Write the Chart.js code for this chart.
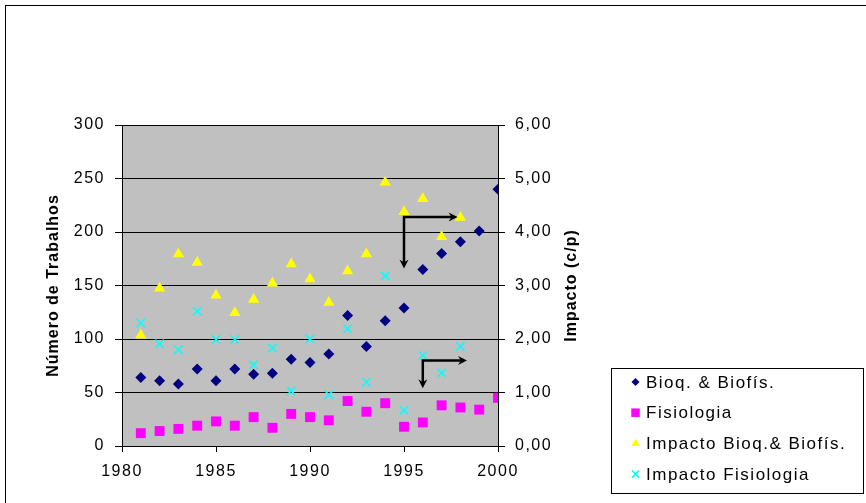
<!DOCTYPE html>
<html>
<head>
<meta charset="utf-8">
<script src="https://cdn.jsdelivr.net/npm/chart.js@4"></script>
<style>
  html, body { margin: 0; padding: 0; background: #fff; }
  #wrap { width: 866px; height: 503px; }
</style>
</head>
<body>
<div id="wrap"><canvas id="chart" width="866" height="503"></canvas></div>
<script>
// values
const years = [1981, 1982, 1983, 1984, 1985, 1986, 1987, 1988, 1989, 1990,
               1991, 1992, 1993, 1994, 1995, 1996, 1997, 1998, 1999, 2000];
const bioq = [64, 61, 58, 72, 61, 72, 67, 68, 81, 78, 86, 122, 93, 117, 129, 165, 180, 191, 201, 240];
const fisio = [12, 14, 16, 19, 23, 19, 27, 17, 30, 27, 24, 42, 32, 40, 18, 22, 38, 36, 34, 45];
const impactYears = years.slice(0, 18);
const impactBioq = [2.07, 2.95, 3.59, 3.43, 2.82, 2.49, 2.74, 3.04, 3.40, 3.12,
                    2.68, 3.27, 3.59, 4.93, 4.38, 4.62, 3.91, 4.27];
const impactFisio = [2.30, 1.91, 1.80, 2.52, 1.99, 1.99, 1.52, 1.83, 1.03, 2.00,
                     0.96, 2.19, 1.19, 3.18, 0.67, 1.69, 1.37, 1.86];
const seriesLabels = ['Bioq. & Biofís.', 'Fisiologia', 'Impacto Bioq.& Biofís.', 'Impacto Fisiologia'];
const xTicks = [1980, 1985, 1990, 1995, 2000];
const leftTitle = 'Número de Trabalhos';
const rightTitle = 'Impacto (c/p)';

// the two elbow arrows, in data units of the x and left y axes
const arrows = [
  {x: 1995, yTop: 214, yBottom: 166, xEnd: 1997.85},
  {x: 1996, yTop: 80, yBottom: 54, xEnd: 1998.35}
];

const FONT = 'Liberation Sans, Arial, sans-serif';

const pts = (xs, ys) => ys.map((v, i) => ({x: xs[i], y: v}));

const bgPlugin = {
  id: 'bg',
  beforeDraw(chart) {
    const {ctx, chartArea: a} = chart;
    ctx.save();
    ctx.fillStyle = '#c0c0c0';
    ctx.fillRect(a.left, a.top, a.right - a.left, a.bottom - a.top);
    ctx.strokeStyle = '#000';
    ctx.lineWidth = 1;
    ctx.strokeRect(5.5, 5.5, 900, 600); // outer chart frame, only top/left visible
    ctx.restore();
    ctx.letterSpacing = '1.5px';
  }
};

const extrasPlugin = {
  id: 'extras',
  afterDraw(chart) {
    const {ctx, chartArea: a, scales} = chart;
    ctx.save();
    ctx.letterSpacing = '1px';
    // axis titles
    ctx.fillStyle = '#000';
    ctx.font = 'bold 16px ' + FONT;
    ctx.textAlign = 'center';
    ctx.textBaseline = 'middle';
    const cy = (a.top + a.bottom) / 2;
    [[leftTitle, 54], [rightTitle, 572]].forEach(([t, x]) => {
      ctx.save();
      ctx.translate(x, cy);
      ctx.rotate(-Math.PI / 2);
      ctx.fillText(t, 0, 0);
      ctx.restore();
    });

    // arrows
    ctx.strokeStyle = '#000';
    ctx.fillStyle = '#000';
    ctx.lineWidth = 2.5;
    arrows.forEach(ar => {
      const x0 = scales.x.getPixelForValue(ar.x);
      const x1 = scales.x.getPixelForValue(ar.xEnd);
      const y0 = scales.y.getPixelForValue(ar.yTop);
      const y1 = scales.y.getPixelForValue(ar.yBottom);
      ctx.beginPath();
      ctx.moveTo(x0, y1 - 5);
      ctx.lineTo(x0, y0);
      ctx.lineTo(x1 - 5, y0);
      ctx.stroke();
      ctx.beginPath();
      ctx.moveTo(x0 - 4.5, y1 - 9); ctx.lineTo(x0, y1); ctx.lineTo(x0 + 4.5, y1 - 9);
      ctx.lineTo(x0, y1 - 6); ctx.closePath();
      ctx.moveTo(x1 - 9, y0 - 4.5); ctx.lineTo(x1, y0); ctx.lineTo(x1 - 9, y0 + 4.5);
      ctx.lineTo(x1 - 6, y0); ctx.closePath();
      ctx.fill();
    });

    // legend box
    const lx = 611, ly = 368, lw = 252, lh = 125;
    ctx.fillStyle = '#fff';
    ctx.fillRect(lx, ly, lw, lh);
    ctx.strokeStyle = '#000';
    ctx.lineWidth = 1;
    ctx.strokeRect(lx + 0.5, ly + 0.5, lw, lh);
    const legendRadius = [4, 6, 5, 5];
    ctx.letterSpacing = '1.5px';
    ctx.font = '17px ' + FONT;
    ctx.textAlign = 'left';
    chart.data.datasets.forEach((ds, i) => {
      const y = 382 + i * 30.7;
      ctx.fillStyle = ds.backgroundColor;
      ctx.strokeStyle = ds.borderColor;
      ctx.lineWidth = ds.borderWidth || 0;
      Chart.helpers.drawPoint(ctx, {
        pointStyle: ds.pointStyle, radius: legendRadius[i], rotation: 0, borderWidth: ds.borderWidth
      }, 635.5, y);
      ctx.fillStyle = '#000';
      ctx.fillText(ds.label, 646, y + 1);
    });
    ctx.restore();
  }
};

new Chart(document.getElementById('chart'), {
  type: 'scatter',
  data: {
    datasets: [
      {label: seriesLabels[0], data: pts(years, bioq), yAxisID: 'y',
       pointStyle: 'rectRot', pointRadius: 5.5, backgroundColor: '#000080', borderColor: '#000080', borderWidth: 0},
      {label: seriesLabels[1], data: pts(years, fisio), yAxisID: 'y',
       pointStyle: 'rect', pointRadius: 7, backgroundColor: '#ff00ff', borderColor: '#ff00ff', borderWidth: 0},
      {label: seriesLabels[2], data: pts(impactYears, impactBioq), yAxisID: 'y2',
       pointStyle: 'triangle', pointRadius: 6.5, backgroundColor: '#ffff00', borderColor: '#ffff00', borderWidth: 0},
      {label: seriesLabels[3], data: pts(impactYears, impactFisio), yAxisID: 'y2',
       pointStyle: 'crossRot', pointRadius: 6, backgroundColor: '#00ffff', borderColor: '#00ffff', borderWidth: 1.5}
    ]
  },
  options: {
    responsive: false,
    animation: false,
    events: [],
    layout: {padding: {top: 125, left: 0, right: 0, bottom: 0}},
    plugins: {legend: {display: false}, tooltip: {enabled: false}},
    scales: {
      x: {
        type: 'linear', min: 1980, max: 2000,
        afterBuildTicks: s => { s.ticks = xTicks.map(v => ({value: v})); },
        afterFit: s => { s.height = 57; },
        grid: {drawOnChartArea: false, drawTicks: true, tickLength: 6, color: '#000'},
        border: {display: true, color: '#000', width: 1},
        ticks: {color: '#000', font: {family: FONT, size: 16}, padding: 10, maxRotation: 0,
                callback: v => String(v)}
      },
      y: {
        position: 'left', min: 0, max: 300,
        afterFit: s => { s.width = 122; },
        grid: {color: '#000', tickLength: 7},
        border: {display: true, color: '#000', width: 1},
        ticks: {stepSize: 50, color: '#000', font: {family: FONT, size: 16}, padding: 10,
                callback: v => String(v)}
      },
      y2: {
        position: 'right', min: 0, max: 6,
        afterFit: s => { s.width = 368; },
        grid: {drawOnChartArea: false, color: '#000', tickLength: 7},
        border: {display: true, color: '#000', width: 1},
        ticks: {stepSize: 1, color: '#000', font: {family: FONT, size: 16}, padding: 10,
                callback: v => v.toFixed(2).replace('.', ',')}
      }
    }
  },
  plugins: [bgPlugin, extrasPlugin]
});
</script>
</body>
</html>
